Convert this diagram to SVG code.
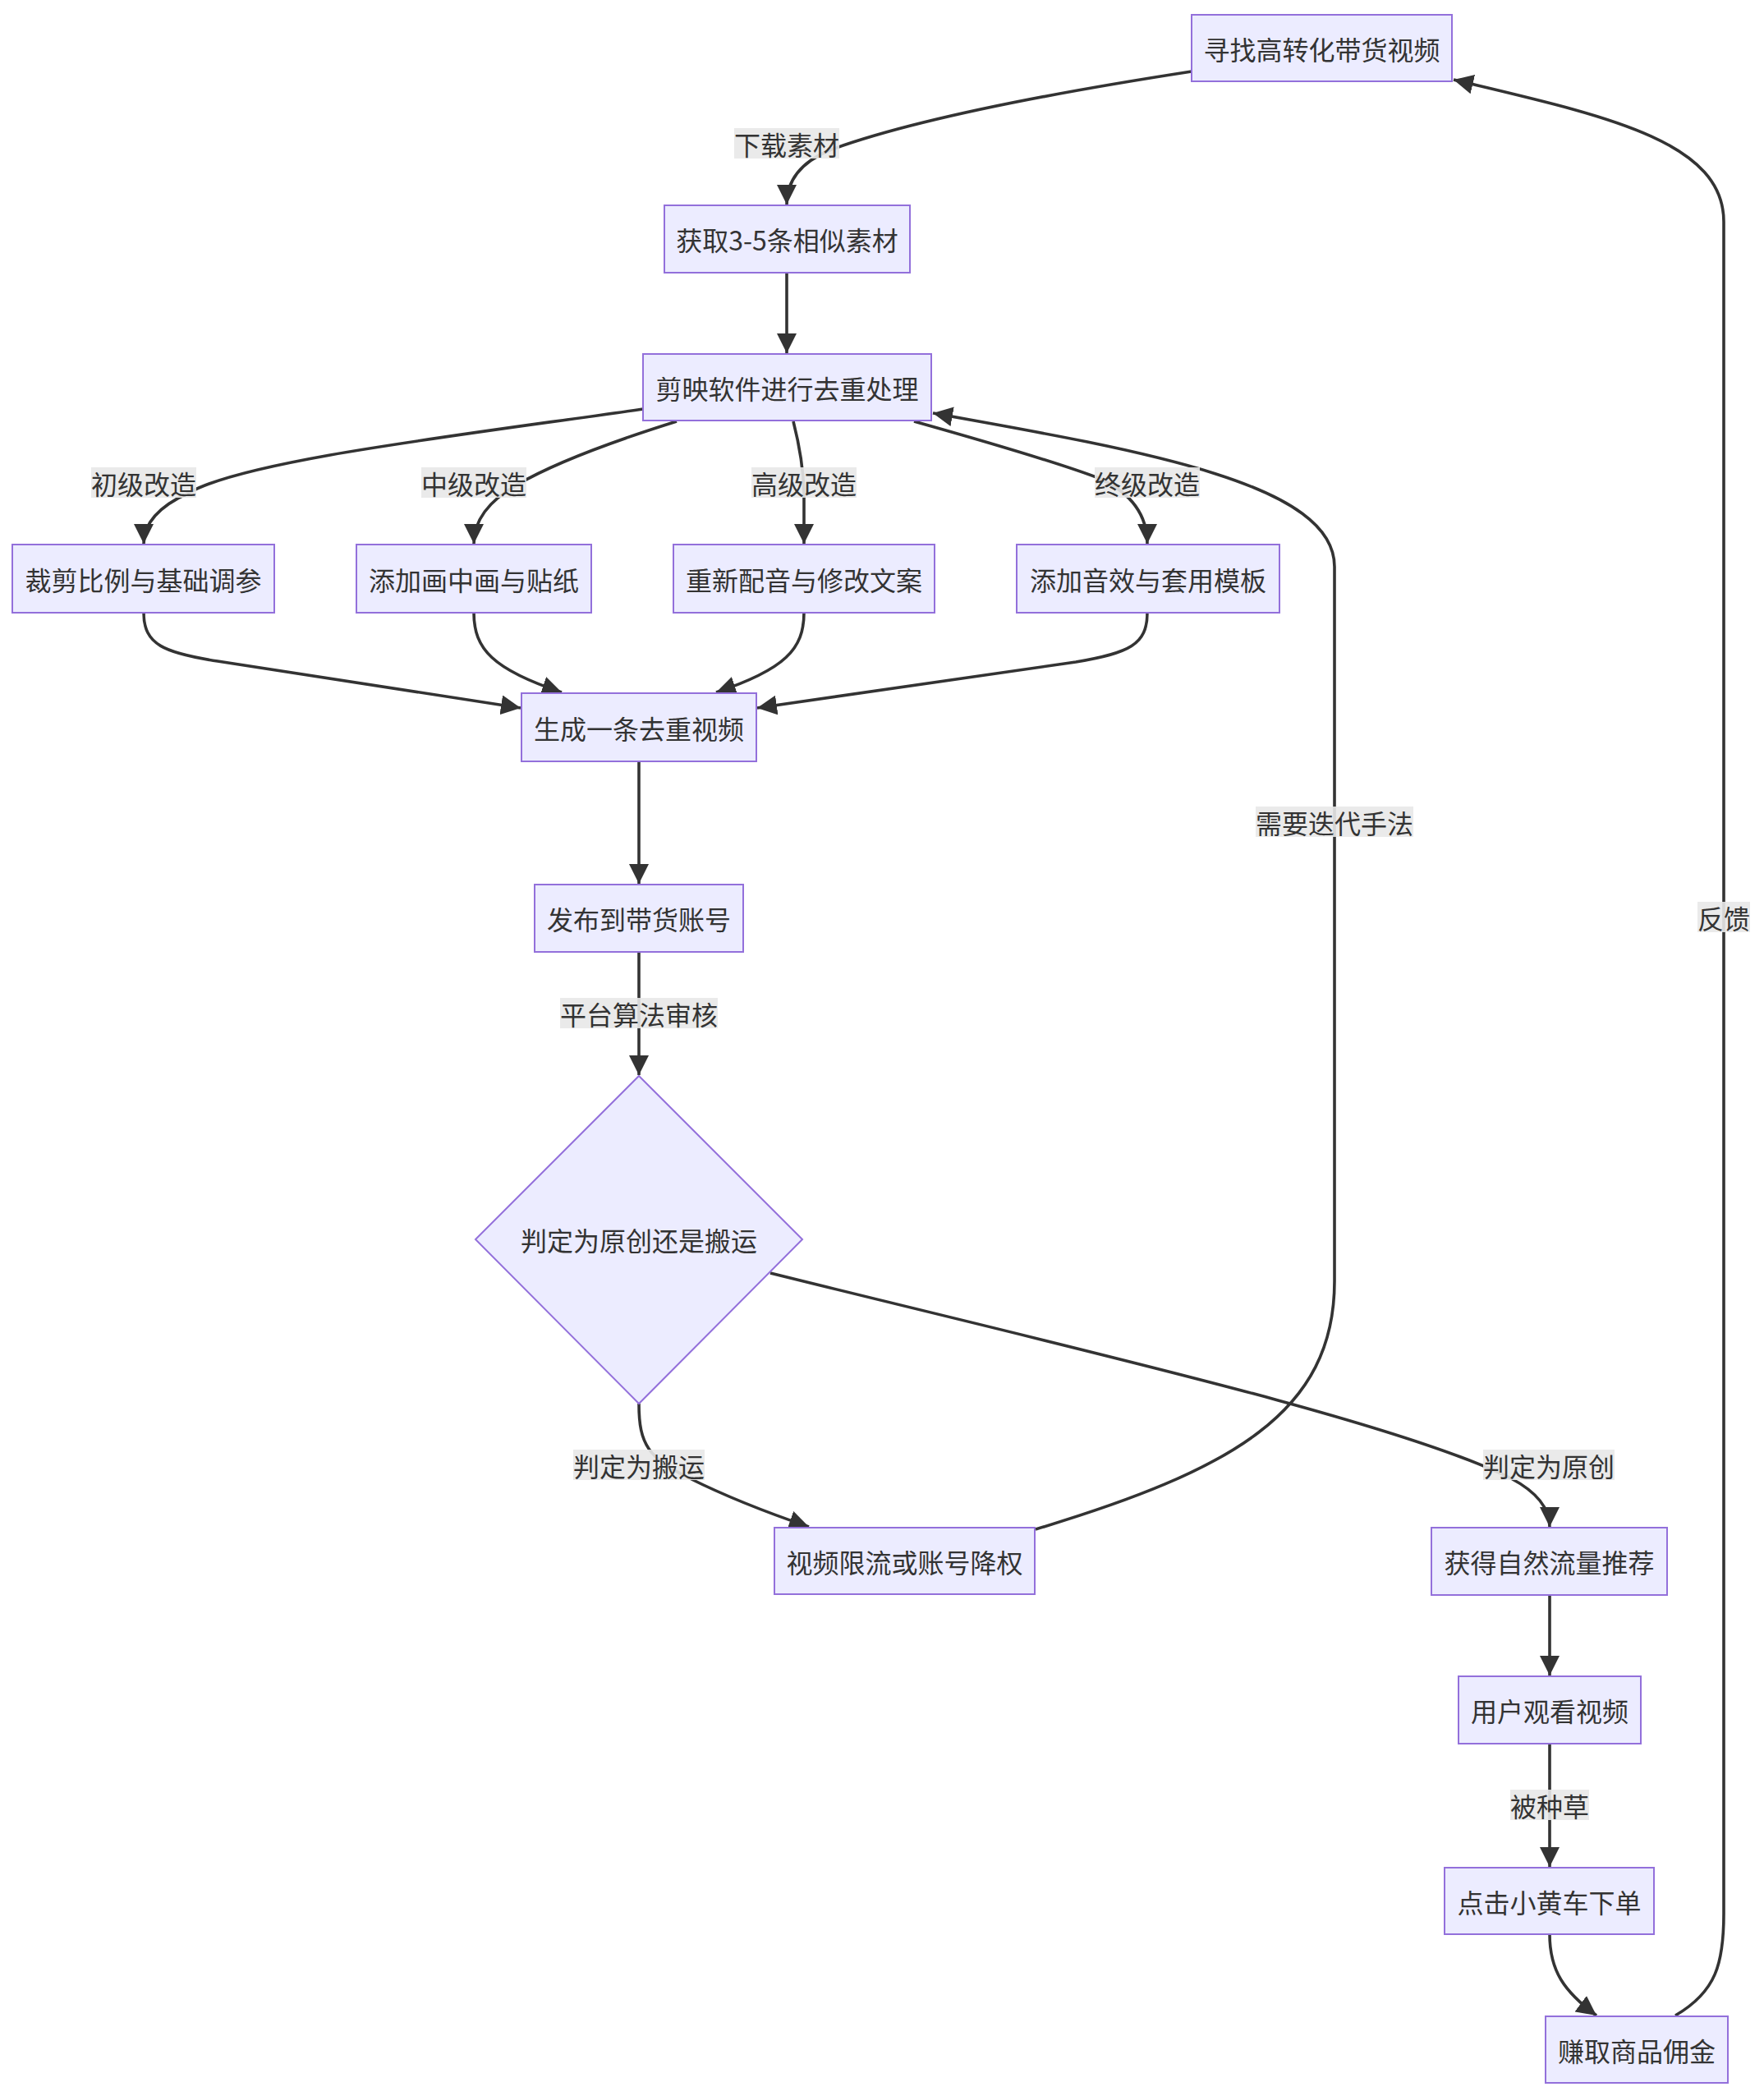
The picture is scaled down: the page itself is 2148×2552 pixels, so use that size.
<svg xmlns="http://www.w3.org/2000/svg" width="2148" height="2552" viewBox="0 0 2148 2552">
<style>
.node rect, .node polygon { fill: #ECECFF; stroke: #9370DB; stroke-width: 2; }
.node text, .lbl text { font-family: "Noto Sans CJK SC", "Noto Sans", sans-serif; font-size: 32px; fill: #333333; text-anchor: middle; dominant-baseline: central; }
.edge { fill: none; stroke: #333333; stroke-width: 3.6; marker-end: url(#arrow); }
.lbl rect { fill: #e8e8e8; fill-opacity: 0.9; }
</style>
<defs>
<marker id="arrow" viewBox="0 0 10 10" refX="10" refY="5" markerUnits="userSpaceOnUse" markerWidth="24" markerHeight="24" orient="auto">
<path d="M0,0 L10,5 L0,10 z" fill="#333333"/>
</marker>
</defs>
<rect x="0" y="0" width="2148" height="2552" fill="#ffffff"/>
<g id="connectors">
<path class="edge" d="M1451,87 Q1140,135 1010,183 Q958,205 958,249"/>
<path class="edge" d="M958,332 L958,430"/>
<path class="edge" d="M783,498 C560,530 300,560 230,600 Q175,625 175,662"/>
<path class="edge" d="M824,513 Q690,555 630,590 Q577,620 577,662"/>
<path class="edge" d="M966,513 Q978,560 979,600 L979,662"/>
<path class="edge" d="M1113,513 Q1280,560 1340,583 Q1397,610 1397,662"/>
<path class="edge" d="M1261,1862 C1500,1790 1625,1720 1625,1560 L1625,690 C1625,590 1400,550 1136,503"/>
<path class="edge" d="M175,746 C175,785 200,795 265,805 L634,862"/>
<path class="edge" d="M577,746 C577,790 600,815 684,843"/>
<path class="edge" d="M979,746 C979,790 956,815 872,843"/>
<path class="edge" d="M1397,746 C1397,785 1375,795 1310,806 L922,862"/>
<path class="edge" d="M778,927 L778,1076"/>
<path class="edge" d="M778,1159 L778,1309"/>
<path class="edge" d="M778,1709 C778,1760 790,1775 840,1800 Q900,1830 985,1859"/>
<path class="edge" d="M938,1550 C1300,1640 1700,1730 1840,1800 Q1887,1825 1887,1859"/>
<path class="edge" d="M1887,1942 L1887,2040"/>
<path class="edge" d="M1887,2123 L1887,2273"/>
<path class="edge" d="M1887,2355 C1887,2400 1905,2425 1944,2454"/>
<path class="edge" d="M2040,2454 C2090,2425 2099,2390 2099,2330 L2099,270 C2099,170 1950,140 1770,97"/>
</g>
<g id="edge-labels">
<g class="lbl"><rect x="894" y="156" width="128" height="37"/><text x="958" y="174.5">下载素材</text></g>
<g class="lbl"><rect x="111" y="569" width="128" height="37"/><text x="175" y="587.5">初级改造</text></g>
<g class="lbl"><rect x="513" y="569" width="128" height="37"/><text x="577" y="587.5">中级改造</text></g>
<g class="lbl"><rect x="915" y="569" width="128" height="37"/><text x="979" y="587.5">高级改造</text></g>
<g class="lbl"><rect x="1333" y="569" width="128" height="37"/><text x="1397" y="587.5">终级改造</text></g>
<g class="lbl"><rect x="1529" y="982" width="192" height="37"/><text x="1625" y="1000.5">需要迭代手法</text></g>
<g class="lbl"><rect x="682" y="1215" width="192" height="37"/><text x="778" y="1233.5">平台算法审核</text></g>
<g class="lbl"><rect x="698" y="1765" width="160" height="37"/><text x="778" y="1783.5">判定为搬运</text></g>
<g class="lbl"><rect x="1806" y="1765" width="160" height="37"/><text x="1886" y="1783.5">判定为原创</text></g>
<g class="lbl"><rect x="1839" y="2179" width="96" height="37"/><text x="1887" y="2197.5">被种草</text></g>
<g class="lbl"><rect x="2067" y="1098" width="64" height="37"/><text x="2099" y="1116.5">反馈</text></g>
</g>
<g id="nodeA" class="node"><rect x="1451" y="18" width="317" height="81"/><text x="1609.5" y="58.5">寻找高转化带货视频</text></g>
<g id="nodeB" class="node"><rect x="809" y="250" width="299" height="82"/><text x="958.5" y="291">获取3-5条相似素材</text></g>
<g id="nodeC" class="node"><rect x="783" y="431" width="351" height="81"/><text x="958.5" y="471.5">剪映软件进行去重处理</text></g>
<g id="nodeD1" class="node"><rect x="15" y="663" width="319" height="83"/><text x="174.5" y="704.5">裁剪比例与基础调参</text></g>
<g id="nodeD2" class="node"><rect x="434" y="663" width="286" height="83"/><text x="577" y="704.5">添加画中画与贴纸</text></g>
<g id="nodeD3" class="node"><rect x="820" y="663" width="318" height="83"/><text x="979" y="704.5">重新配音与修改文案</text></g>
<g id="nodeD4" class="node"><rect x="1238" y="663" width="320" height="83"/><text x="1398" y="704.5">添加音效与套用模板</text></g>
<g id="nodeE" class="node"><rect x="635" y="844" width="286" height="83"/><text x="778" y="885.5">生成一条去重视频</text></g>
<g id="nodeF" class="node"><rect x="651" y="1077" width="254" height="82"/><text x="778" y="1118">发布到带货账号</text></g>
<g id="nodeG" class="node"><polygon points="778,1310 977,1509 778,1709 579,1509"/><text x="778" y="1509">判定为原创还是搬运</text></g>
<g id="nodeH" class="node"><rect x="943" y="1860" width="317" height="81"/><text x="1101.5" y="1900.5">视频限流或账号降权</text></g>
<g id="nodeI" class="node"><rect x="1743" y="1860" width="287" height="82"/><text x="1886.5" y="1901">获得自然流量推荐</text></g>
<g id="nodeJ" class="node"><rect x="1776" y="2041" width="222" height="82"/><text x="1887" y="2082">用户观看视频</text></g>
<g id="nodeK" class="node"><rect x="1759" y="2274" width="255" height="81"/><text x="1886.5" y="2314.5">点击小黄车下单</text></g>
<g id="nodeL" class="node"><rect x="1882" y="2455" width="222" height="81"/><text x="1993" y="2495.5">赚取商品佣金</text></g>
</svg>
